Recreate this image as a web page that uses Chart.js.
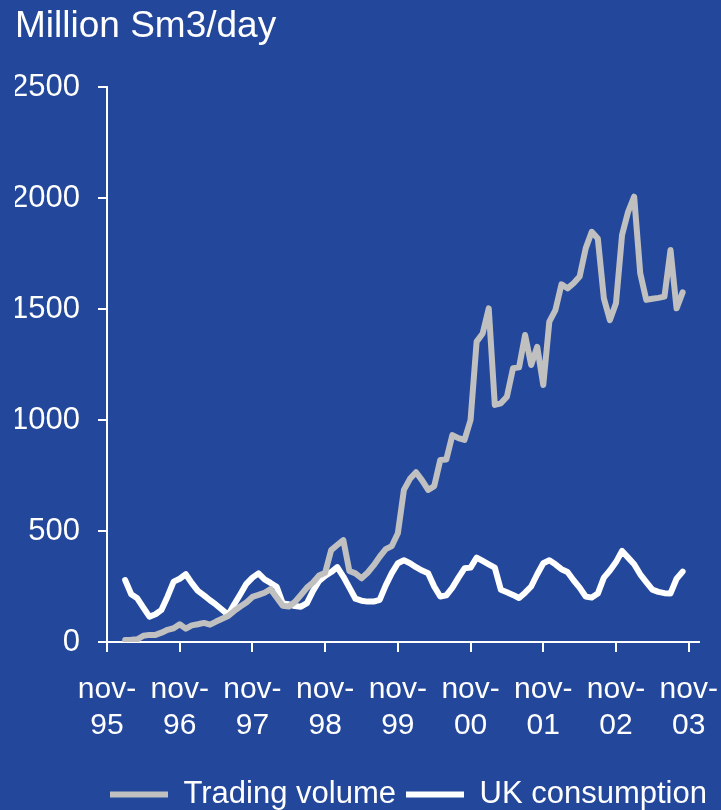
<!DOCTYPE html>
<html>
<head>
<meta charset="utf-8">
<title>Trading volume vs UK consumption</title>
<script src="https://cdn.jsdelivr.net/npm/chart.js@4/dist/chart.umd.min.js"></script>
<style>
  html, body { margin: 0; padding: 0; background: #23489b; }
  #wrap { width: 721px; height: 810px; position: relative; }
</style>
</head>
<body>
<div id="wrap"><canvas id="gasChart"></canvas></div>
<script>
// --- Data (monthly, Million Sm3/day) ---
// x position is months counted from nov-95; first value is feb-96
const firstMonth = 3;
const tickYears = ["95", "96", "97", "98", "99", "00", "01", "02", "03"];

const tradingVolume = [
  9, 10, 12, 28, 32, 32, 42, 55, 62, 80,
  60, 75, 80, 86, 78, 92, 105, 117, 140, 160,
  178, 203, 212, 222, 238, 200, 163, 160, 180, 212,
  245, 268, 300, 312, 414, 437, 459, 320, 309, 287,
  312, 345, 384, 418, 432, 490, 685, 735, 765, 728,
  685, 702, 820, 822, 932, 918, 910, 1000, 1353, 1390,
  1503, 1068, 1075, 1105, 1233, 1237, 1383, 1248, 1330, 1158,
  1443, 1495, 1611, 1593, 1616, 1646, 1773, 1848, 1818, 1548,
  1450, 1526, 1833, 1938, 2006, 1661, 1541, 1546, 1550, 1556,
  1766, 1503, 1575
];

const ukConsumption = [
  279, 215, 197, 155, 114, 125, 145, 205, 272, 285,
  305, 265, 230, 210, 188, 168, 145, 122, 170, 215,
  262, 290, 309, 282, 266, 249, 174, 170, 162, 159,
  175, 230, 275, 298, 315, 337, 295, 245, 195, 186,
  182, 182, 190, 255, 310, 355, 368, 355, 337, 322,
  310, 250, 205, 210, 245, 290, 332, 335, 380, 365,
  350, 335, 235, 224, 212, 198, 222, 250, 305, 355,
  368, 350, 328, 315, 278, 245, 205, 200, 218, 290,
  322, 360, 410, 380, 350, 305, 270, 236, 226, 220,
  219, 285, 317
];

const toPoints = (arr) => arr.map((v, i) => ({ x: firstMonth + i, y: v }));

const white = "#ffffff";
const family = "'Liberation Sans', Arial, sans-serif";

// moves the legend row to sit under the plot like the original slide
const legendShift = {
  id: "legendShift",
  afterLayout(chart) {
    const lg = chart.legend;
    const dx = 100 - lg.left;
    lg.left += dx;
    lg.right += dx;
    lg.top += 10;
    lg.bottom += 10;
  },
};

const ctx = document.getElementById("gasChart").getContext("2d");
const chart = new Chart(ctx, {
  type: "line",
  data: {
    datasets: [
      {
        label: "Trading volume",
        data: toPoints(tradingVolume),
        borderColor: "#c0c0c0",
        backgroundColor: "#c0c0c0",
        borderWidth: 6,
        pointRadius: 0,
        tension: 0,
        borderJoinStyle: "round",
        borderCapStyle: "round",
      },
      {
        label: "UK consumption",
        data: toPoints(ukConsumption),
        borderColor: white,
        backgroundColor: white,
        borderWidth: 6,
        pointRadius: 0,
        tension: 0,
        borderJoinStyle: "round",
        borderCapStyle: "round",
      },
    ],
  },
  options: {
    responsive: true,
    maintainAspectRatio: false,
    animation: false,
    layout: { padding: { left: 15, right: 22, top: 0, bottom: 0 } },
    plugins: {
      tooltip: { enabled: false },
      title: {
        display: true,
        text: "Million Sm3/day",
        align: "start",
        color: white,
        font: { family: family, size: 37, weight: "normal" },
        padding: { top: 5, bottom: 37.6 },
      },
      legend: {
        position: "bottom",
        align: "start",
        labels: {
          color: white,
          font: { family: family, size: 31 },
          usePointStyle: true,
          pointStyle: "line",
          pointStyleWidth: 58,
          padding: 10,
        },
      },
    },
    scales: {
      x: {
        type: "linear",
        min: 0,
        max: 97.7,
        border: { color: white, width: 2 },
        grid: { drawOnChartArea: false, drawTicks: true, tickLength: 10, color: white, lineWidth: 2 },
        ticks: {
          stepSize: 12,
          includeBounds: false,
          autoSkip: false,
          maxRotation: 0,
          color: white,
          font: { family: family, size: 30, lineHeight: 1.2 },
          padding: 20,
          callback: (v) => {
            const i = v / 12;
            return Number.isInteger(i) && tickYears[i] ? ["nov-", tickYears[i]] : null;
          },
        },
        afterFit: (scale) => {
          scale.height = 117;
          scale.paddingLeft = 0;
          scale.paddingRight = 0;
        },
      },
      y: {
        min: 0,
        max: 2500,
        border: { color: white, width: 2 },
        grid: { drawOnChartArea: false, drawTicks: true, tickLength: 9, color: white, lineWidth: 2 },
        ticks: {
          stepSize: 500,
          color: white,
          font: { family: family, size: 31 },
          padding: 18,
          callback: (v) => String(v),
        },
        afterFit: (scale) => {
          scale.width = 92;
        },
      },
    },
  },
  plugins: [legendShift],
});
</script>
</body>
</html>
